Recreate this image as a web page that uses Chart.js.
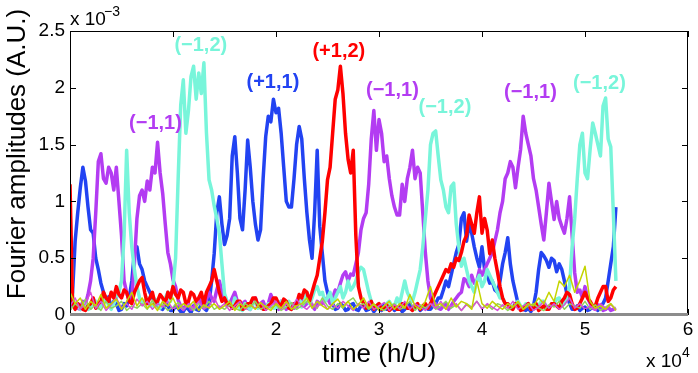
<!DOCTYPE html>
<html>
<head>
<meta charset="utf-8">
<script src="https://cdn.jsdelivr.net/npm/chart.js@4"></script>
<style>
html, body { margin: 0; padding: 0; background: #fff; }
canvas { display: block; }
</style>
</head>
<body>
<canvas id="chart" width="698" height="373"></canvas>
<script>
// time in units of 1e4 h/U, amplitudes in units of 1e-3 A.U.
// strong modes are read every 250 h/U, weak floor modes every 500 h/U
const timeFine = [
    0, 0.025, 0.05, 0.075, 0.1, 0.125, 0.15, 0.175, 0.2, 0.225, 0.25, 0.275, 0.3, 0.325, 0.35, 0.375, 0.4, 0.425, 0.45, 0.475,
    0.5, 0.525, 0.55, 0.575, 0.6, 0.625, 0.65, 0.675, 0.7, 0.725, 0.75, 0.775, 0.8, 0.825, 0.85, 0.875, 0.9, 0.925, 0.95, 0.975,
    1, 1.025, 1.05, 1.075, 1.1, 1.125, 1.15, 1.175, 1.2, 1.225, 1.25, 1.275, 1.3, 1.325, 1.35, 1.375, 1.4, 1.425, 1.45, 1.475,
    1.5, 1.525, 1.55, 1.575, 1.6, 1.625, 1.65, 1.675, 1.7, 1.725, 1.75, 1.775, 1.8, 1.825, 1.85, 1.875, 1.9, 1.925, 1.95, 1.975,
    2, 2.025, 2.05, 2.075, 2.1, 2.125, 2.15, 2.175, 2.2, 2.225, 2.25, 2.275, 2.3, 2.325, 2.35, 2.375, 2.4, 2.425, 2.45, 2.475,
    2.5, 2.525, 2.55, 2.575, 2.6, 2.625, 2.65, 2.675, 2.7, 2.725, 2.75, 2.775, 2.8, 2.825, 2.85, 2.875, 2.9, 2.925, 2.95, 2.975,
    3, 3.025, 3.05, 3.075, 3.1, 3.125, 3.15, 3.175, 3.2, 3.225, 3.25, 3.275, 3.3, 3.325, 3.35, 3.375, 3.4, 3.425, 3.45, 3.475,
    3.5, 3.525, 3.55, 3.575, 3.6, 3.625, 3.65, 3.675, 3.7, 3.725, 3.75, 3.775, 3.8, 3.825, 3.85, 3.875, 3.9, 3.925, 3.95, 3.975,
    4, 4.025, 4.05, 4.075, 4.1, 4.125, 4.15, 4.175, 4.2, 4.225, 4.25, 4.275, 4.3, 4.325, 4.35, 4.375, 4.4, 4.425, 4.45, 4.475,
    4.5, 4.525, 4.55, 4.575, 4.6, 4.625, 4.65, 4.675, 4.7, 4.725, 4.75, 4.775, 4.8, 4.825, 4.85, 4.875, 4.9, 4.925, 4.95, 4.975,
    5, 5.025, 5.05, 5.075, 5.1, 5.125, 5.15, 5.175, 5.2, 5.225, 5.25, 5.275, 5.3
];

const time = [
    0, 0.05, 0.1, 0.15, 0.2, 0.25, 0.3, 0.35, 0.4, 0.45,
    0.5, 0.55, 0.6, 0.65, 0.7, 0.75, 0.8, 0.85, 0.9, 0.95,
    1, 1.05, 1.1, 1.15, 1.2, 1.25, 1.3, 1.35, 1.4, 1.45,
    1.5, 1.55, 1.6, 1.65, 1.7, 1.75, 1.8, 1.85, 1.9, 1.95,
    2, 2.05, 2.1, 2.15, 2.2, 2.25, 2.3, 2.35, 2.4, 2.45,
    2.5, 2.55, 2.6, 2.65, 2.7, 2.75, 2.8, 2.85, 2.9, 2.95,
    3, 3.05, 3.1, 3.15, 3.2, 3.25, 3.3, 3.35, 3.4, 3.45,
    3.5, 3.55, 3.6, 3.65, 3.7, 3.75, 3.8, 3.85, 3.9, 3.95,
    4, 4.05, 4.1, 4.15, 4.2, 4.25, 4.3, 4.35, 4.4, 4.45,
    4.5, 4.55, 4.6, 4.65, 4.7, 4.75, 4.8, 4.85, 4.9, 4.95,
    5, 5.05, 5.1, 5.15, 5.2, 5.25, 5.3
];

// mode (+1,1)
const plus11 = [
    0.05, 0.2, 0.65, 0.9, 1.12, 1.3, 1.18, 0.95, 0.75, 0.72, 0.5, 0.4, 0.28, 0.2, 0.12, 0.16, 0.06, 0.12, 0.1, 0.04,
    0.05, 0.1, 0.08, 0.15, 0.3, 0.55, 0.6, 0.45, 0.4, 0.3, 0.25, 0.2, 0.15, 0.12, 0.1, 0.06, 0.05, 0.1, 0.08, 0.04,
    0.04, 0.08, 0.06, 0.03, 0.03, 0.07, 0.05, 0.02, 0.08, 0.05, 0.04, 0.1, 0.06, 0.04, 0.1, 0.3, 0.54, 0.9, 1.04, 0.8,
    0.62, 0.7, 0.85, 1.4, 1.57, 1.25, 0.85, 0.75, 1.1, 1.54, 1.3, 1.0, 0.8, 0.66, 0.75, 1.2, 1.57, 1.75, 1.7, 1.9,
    1.78, 1.82, 1.6, 1.3, 1.0, 0.95, 0.95, 1.2, 1.5, 1.66, 1.55, 1.2, 0.9, 0.66, 0.5, 0.9, 1.45, 0.78, 0.54, 0.3,
    0.2, 0.12, 0.1, 0.05, 0.06, 0.1, 0.08, 0.04, 0.05, 0.09, 0.1, 0.05, 0.04, 0.08, 0.08, 0.04, 0.05, 0.07, 0.03, 0.06,
    0.06, 0.04, 0.09, 0.05, 0.05, 0.08, 0.04, 0.06, 0.07, 0.03, 0.05, 0.08, 0.1, 0.05, 0.06, 0.09, 0.04, 0.06, 0.08, 0.05,
    0.05, 0.08, 0.1, 0.15, 0.15, 0.22, 0.3, 0.25, 0.35, 0.45, 0.55, 0.62, 0.85, 0.9, 0.65, 0.8, 0.72, 0.6, 0.5, 0.42,
    0.6, 0.4, 0.35, 0.28, 0.3, 0.22, 0.2, 0.3, 0.45, 0.55, 0.68, 0.45, 0.3, 0.2, 0.1, 0.06, 0.05, 0.04, 0.06, 0.03,
    0.08, 0.2, 0.4, 0.55, 0.52, 0.48, 0.42, 0.5, 0.48, 0.38, 0.45, 0.4, 0.3, 0.18, 0.1, 0.05, 0.05, 0.08, 0.04, 0.06,
    0.07, 0.04, 0.05, 0.08, 0.06, 0.04, 0.08, 0.1, 0.15, 0.3, 0.45, 0.6, 0.95
];

// mode (-1,1)
const minus11 = [
    0.05, 0.12, 0.1, 0.06, 0.05, 0.12, 0.1, 0.18, 0.3, 0.5, 0.9, 1.35, 1.42, 1.2, 1.16, 1.3, 1.25, 1.1, 1.3, 1.0,
    0.7, 0.3, 0.2, 0.12, 0.15, 0.45, 0.85, 1.05, 1.1, 1.0, 1.18, 1.1, 1.3, 1.25, 1.52, 1.25, 1.07, 0.8, 0.55, 0.45,
    0.31, 0.25, 0.13, 0.08, 0.05, 0.09, 0.1, 0.05, 0.06, 0.12, 0.15, 0.1, 0.08, 0.14, 0.2, 0.15, 0.12, 0.22, 0.3, 0.2,
    0.15, 0.08, 0.1, 0.15, 0.2, 0.12, 0.08, 0.1, 0.12, 0.06, 0.05, 0.1, 0.15, 0.08, 0.1, 0.12, 0.06, 0.1, 0.18, 0.12,
    0.08, 0.05, 0.12, 0.09, 0.05, 0.1, 0.1, 0.06, 0.07, 0.12, 0.15, 0.08, 0.1, 0.14, 0.08, 0.05, 0.12, 0.1, 0.1, 0.14,
    0.15, 0.1, 0.15, 0.22, 0.2, 0.28, 0.35, 0.38, 0.3, 0.36, 0.35, 0.45, 0.55, 0.75, 0.85, 0.9, 1.15, 1.55, 1.8, 1.45,
    1.72, 1.6, 1.35, 1.4, 1.2, 1.05, 0.95, 0.88, 0.88, 1.15, 1.0, 1.2, 1.3, 1.45, 1.2, 1.3, 1.25, 0.9, 0.55, 0.3,
    0.15, 0.1, 0.1, 0.06, 0.05, 0.08, 0.1, 0.05, 0.08, 0.12, 0.15, 0.18, 0.2, 0.32, 0.3, 0.25, 0.35, 0.28, 0.3, 0.4,
    0.35, 0.4, 0.45, 0.5, 0.55, 0.65, 0.75, 0.9, 1.0, 1.2, 1.25, 1.35, 1.3, 1.12, 1.3, 1.46, 1.75, 1.6, 1.5, 1.4,
    1.2, 1.1, 0.95, 0.8, 0.66, 0.9, 1.16, 1.0, 0.84, 1.0, 0.85, 0.78, 0.72, 0.85, 1.04, 0.7, 0.37, 0.2, 0.22, 0.15,
    0.25, 0.15, 0.1, 0.06, 0.05, 0.09, 0.08, 0.04, 0.05, 0.07, 0.04, 0.05, 0.06
];

// mode (-1,2)
const minus12 = [
    0.95, 0.15, 0.08, 0.1, 0.05, 0.08, 0.1, 0.05, 0.06, 0.14, 0.12, 0.06, 0.08, 0.12, 0.15, 0.08, 0.05, 0.1, 0.15, 0.2,
    0.3, 0.7, 1.45, 0.9, 0.6, 0.4, 0.25, 0.15, 0.1, 0.12, 0.15, 0.08, 0.08, 0.14, 0.12, 0.06, 0.1, 0.15, 0.2, 0.12,
    0.25, 0.5, 1.2, 1.85, 2.07, 1.6, 1.8, 2.1, 2.19, 1.9, 2.13, 1.95, 2.22, 1.6, 1.19, 1.1, 0.96, 0.85, 0.72, 0.45,
    0.19, 0.12, 0.1, 0.06, 0.15, 0.1, 0.06, 0.04, 0.1, 0.07, 0.05, 0.09, 0.12, 0.06, 0.08, 0.05, 0.05, 0.1, 0.1, 0.06,
    0.06, 0.1, 0.12, 0.07, 0.08, 0.12, 0.05, 0.08, 0.1, 0.15, 0.07, 0.12, 0.2, 0.1, 0.15, 0.22, 0.25, 0.18, 0.2, 0.12,
    0.15, 0.2, 0.1, 0.15, 0.2, 0.25, 0.15, 0.2, 0.3, 0.22, 0.25, 0.3, 0.38, 0.42, 0.4, 0.3, 0.2, 0.12, 0.05, 0.08,
    0.1, 0.05, 0.06, 0.1, 0.12, 0.08, 0.08, 0.15, 0.1, 0.2, 0.3, 0.2, 0.15, 0.12, 0.2, 0.3, 0.4, 0.6, 0.85, 1.1,
    1.5, 1.6, 1.62, 1.4, 1.19, 1.1, 0.95, 0.9, 1.13, 1.16, 0.8, 0.6, 0.43, 0.5, 0.4, 0.3, 0.25, 0.2, 0.3, 0.35,
    0.25, 0.3, 0.4, 0.35, 0.3, 0.25, 0.2, 0.15, 0.15, 0.1, 0.1, 0.06, 0.08, 0.1, 0.12, 0.08, 0.06, 0.1, 0.1, 0.05,
    0.05, 0.08, 0.08, 0.12, 0.12, 0.07, 0.06, 0.1, 0.1, 0.14, 0.15, 0.08, 0.1, 0.15, 0.25, 0.6, 0.85, 1.2, 1.5, 1.6,
    1.25, 1.2, 1.46, 1.69, 1.6, 1.5, 1.4, 1.84, 1.91, 1.55, 1.48, 0.9, 0.3
];

// mode (+1,2)
const plus12 = [
    1.15, 0.1, 0.05, 0.1, 0.08, 0.05, 0.04, 0.08, 0.1, 0.15, 0.06, 0.1, 0.12, 0.2, 0.15, 0.12, 0.2, 0.15, 0.25, 0.18,
    0.15, 0.22, 0.2, 0.12, 0.1, 0.2, 0.25, 0.3, 0.33, 0.2, 0.1, 0.15, 0.2, 0.1, 0.12, 0.18, 0.15, 0.1, 0.2, 0.15,
    0.25, 0.18, 0.15, 0.22, 0.2, 0.1, 0.12, 0.2, 0.18, 0.12, 0.15, 0.2, 0.1, 0.2, 0.25, 0.3, 0.4, 0.3, 0.2, 0.12,
    0.15, 0.1, 0.1, 0.06, 0.08, 0.12, 0.12, 0.05, 0.06, 0.1, 0.1, 0.15, 0.15, 0.08, 0.08, 0.05, 0.05, 0.08, 0.1, 0.15,
    0.15, 0.1, 0.08, 0.14, 0.12, 0.06, 0.05, 0.1, 0.1, 0.18, 0.15, 0.22, 0.2, 0.12, 0.2, 0.28, 0.35, 0.5, 0.65, 0.9,
    1.19, 1.3, 1.6, 1.9, 1.98, 2.19, 1.95, 1.6, 1.37, 1.25, 1.45, 0.7, 0.25, 0.15, 0.1, 0.06, 0.08, 0.12, 0.05, 0.08,
    0.1, 0.05, 0.06, 0.09, 0.04, 0.06, 0.08, 0.05, 0.05, 0.1, 0.1, 0.06, 0.06, 0.04, 0.08, 0.1, 0.05, 0.08, 0.1, 0.06,
    0.1, 0.15, 0.2, 0.25, 0.3, 0.35, 0.4, 0.38, 0.45, 0.42, 0.5, 0.48, 0.55, 0.65, 0.7, 0.88, 0.8, 0.72, 0.9, 1.04,
    0.72, 0.85, 0.75, 0.54, 0.66, 0.5, 0.38, 0.25, 0.15, 0.1, 0.1, 0.06, 0.05, 0.1, 0.08, 0.04, 0.05, 0.08, 0.1, 0.05,
    0.06, 0.1, 0.04, 0.06, 0.08, 0.05, 0.05, 0.1, 0.1, 0.08, 0.06, 0.12, 0.15, 0.2, 0.18, 0.1, 0.05, 0.06, 0.1, 0.15,
    0.2, 0.15, 0.12, 0.08, 0.08, 0.15, 0.2, 0.25, 0.25, 0.12, 0.15, 0.22, 0.25
];

// weak modes near the floor
const weakA = [
    0.2, 0.1, 0.15, 0.05, 0.12, 0.08, 0.18, 0.06, 0.1, 0.14,
    0.05, 0.12, 0.2, 0.08, 0.15, 0.06, 0.1, 0.04, 0.12, 0.08,
    0.15, 0.05, 0.1, 0.07, 0.12, 0.04, 0.09, 0.06, 0.1, 0.05,
    0.08, 0.12, 0.04, 0.1, 0.06, 0.09, 0.05, 0.11, 0.07, 0.04,
    0.1, 0.06, 0.12, 0.05, 0.08, 0.1, 0.15, 0.06, 0.12, 0.08,
    0.05, 0.1, 0.14, 0.07, 0.12, 0.05, 0.09, 0.15, 0.06, 0.1,
    0.04, 0.08, 0.12, 0.05, 0.1, 0.06, 0.18, 0.08, 0.05, 0.12,
    0.25, 0.08, 0.1, 0.05, 0.15, 0.07, 0.12, 0.1, 0.05, 0.3,
    0.1, 0.06, 0.12, 0.08, 0.05, 0.1, 0.07, 0.12, 0.05, 0.1,
    0.08, 0.15, 0.1, 0.2, 0.12, 0.3, 0.25, 0.35, 0.2, 0.3,
    0.43, 0.12, 0.06, 0.08, 0.05, 0.1, 0.04
];
const weakB = [
    0.08, 0.15, 0.05, 0.1, 0.2, 0.06, 0.12, 0.04, 0.09, 0.15,
    0.06, 0.1, 0.05, 0.14, 0.08, 0.12, 0.05, 0.1, 0.07, 0.12,
    0.05, 0.09, 0.04, 0.1, 0.06, 0.12, 0.05, 0.08, 0.15, 0.06,
    0.1, 0.04, 0.08, 0.12, 0.05, 0.09, 0.06, 0.11, 0.04, 0.08,
    0.12, 0.05, 0.1, 0.06, 0.14, 0.08, 0.05, 0.1, 0.07, 0.12,
    0.05, 0.09, 0.06, 0.12, 0.08, 0.04, 0.1, 0.06, 0.12, 0.05,
    0.08, 0.11, 0.04, 0.09, 0.06, 0.12, 0.05, 0.1, 0.07, 0.04,
    0.1, 0.06, 0.12, 0.05, 0.08, 0.1, 0.04, 0.09, 0.06, 0.12,
    0.05, 0.1, 0.07, 0.04, 0.09, 0.06, 0.12, 0.05, 0.08, 0.1,
    0.04, 0.07, 0.12, 0.06, 0.1, 0.05, 0.09, 0.15, 0.06, 0.1,
    0.05, 0.08, 0.04, 0.1, 0.06, 0.09, 0.05
];
const weakC = [
    0.04, 0.1, 0.06, 0.14, 0.05, 0.09, 0.04, 0.12, 0.06, 0.08,
    0.12, 0.04, 0.08, 0.06, 0.1, 0.05, 0.13, 0.06, 0.09, 0.04,
    0.07, 0.11, 0.05, 0.09, 0.04, 0.1, 0.06, 0.12, 0.05, 0.08,
    0.05, 0.09, 0.06, 0.04, 0.1, 0.07, 0.12, 0.05, 0.08, 0.06,
    0.09, 0.04, 0.07, 0.11, 0.05, 0.08, 0.12, 0.1, 0.06, 0.15,
    0.08, 0.05, 0.1, 0.06, 0.12, 0.15, 0.08, 0.1, 0.05, 0.09,
    0.06, 0.04, 0.08, 0.1, 0.05, 0.07, 0.12, 0.04, 0.09, 0.06,
    0.1, 0.05, 0.08, 0.12, 0.06, 0.09, 0.04, 0.1, 0.07, 0.12,
    0.06, 0.09, 0.05, 0.1, 0.08, 0.04, 0.07, 0.11, 0.05, 0.08,
    0.1, 0.06, 0.04, 0.09, 0.07, 0.12, 0.05, 0.1, 0.08, 0.06,
    0.12, 0.05, 0.09, 0.04, 0.07, 0.1, 0.05
];

const xTicks = [0, 1, 2, 3, 4, 5, 6];
const yTicks = [0, 0.5, 1, 1.5, 2, 2.5];

const BLUE = "#2243f2";
const PURPLE = "#b33cf2";
const CYAN = "#78f5da";
const RED = "#ff0000";

// mode tags, placed in data coordinates
const tags = [
    { text: "(\u22121,1)", color: PURPLE, t: 0.83, v: 1.69 },
    { text: "(\u22121,2)", color: CYAN, t: 1.27, v: 2.37 },
    { text: "(+1,1)", color: BLUE, t: 1.97, v: 2.05 },
    { text: "(+1,2)", color: RED, t: 2.61, v: 2.32 },
    { text: "(\u22121,1)", color: PURPLE, t: 3.13, v: 1.98 },
    { text: "(\u22121,2)", color: CYAN, t: 3.64, v: 1.83 },
    { text: "(\u22121,1)", color: PURPLE, t: 4.47, v: 1.96 },
    { text: "(\u22121,2)", color: CYAN, t: 5.14, v: 2.04 }
];

const FONT = "'Liberation Sans', Arial, Helvetica, sans-serif";

function series(ts, arr, color, width) {
    return {
        data: ts.map((t, i) => ({ x: t, y: arr[i] })),
        borderColor: color,
        borderWidth: width,
        pointRadius: 0,
        tension: 0,
        fill: false,
        borderJoinStyle: "round"
    };
}

const frame = {
    id: "frame",
    afterDatasetsDraw(chart) {
        const ctx = chart.ctx;
        const a = chart.chartArea;
        const x = chart.scales.x;
        const y = chart.scales.y;
        ctx.save();

        ctx.strokeStyle = "#000";
        ctx.lineWidth = 1;
        ctx.beginPath();
        ctx.moveTo(a.left + 0.5, a.bottom);
        ctx.lineTo(a.left + 0.5, a.top + 0.5);
        ctx.lineTo(a.right - 0.5, a.top + 0.5);
        ctx.lineTo(a.right - 0.5, a.bottom);
        xTicks.forEach(v => {
            const px = Math.round(x.getPixelForValue(v)) + 0.5;
            ctx.moveTo(px, a.bottom);
            ctx.lineTo(px, a.bottom - 6);
            ctx.moveTo(px, a.top);
            ctx.lineTo(px, a.top + 6);
        });
        yTicks.forEach(v => {
            const py = Math.round(y.getPixelForValue(v)) + 0.5;
            ctx.moveTo(a.left, py);
            ctx.lineTo(a.left + 6, py);
            ctx.moveTo(a.right, py);
            ctx.lineTo(a.right - 6, py);
        });
        ctx.stroke();

        ctx.strokeStyle = "#8c8c8c";
        ctx.lineWidth = 3;
        ctx.beginPath();
        ctx.moveTo(a.left, a.bottom - 0.5);
        ctx.lineTo(a.right, a.bottom - 0.5);
        ctx.stroke();

        ctx.font = "bold 20px " + FONT;
        ctx.textAlign = "center";
        ctx.textBaseline = "middle";
        tags.forEach(tg => {
            ctx.fillStyle = tg.color;
            ctx.fillText(tg.text, x.getPixelForValue(tg.t), y.getPixelForValue(tg.v));
        });

        ctx.fillStyle = "#000";
        ctx.font = "26px " + FONT;
        ctx.fillText("time (h/U)", (a.left + a.right) / 2, 355);

        ctx.save();
        ctx.translate(18, 154);
        ctx.rotate(-Math.PI / 2);
        ctx.fillText("Fourier amplitudes (A.U.)", 0, 0);
        ctx.restore();

        ctx.textAlign = "left";
        ctx.textBaseline = "alphabetic";
        ctx.font = "19px " + FONT;
        ctx.fillText("x 10", 70, 25);
        ctx.fillText("x 10", 646, 367);
        ctx.font = "14px " + FONT;
        ctx.fillText("\u22123", 104, 16);
        ctx.fillText("4", 682, 357);

        ctx.restore();
    }
};

new Chart(document.getElementById("chart").getContext("2d"), {
    type: "line",
    data: {
        datasets: [
            series(time, weakA, "#c4d400", 1.5),
            series(time, weakB, "#d84ed8", 1.5),
            series(time, weakC, "#8fd45a", 1.5),
            series(timeFine, plus12, RED, 3.5),
            series(timeFine, minus12, CYAN, 3.5),
            series(timeFine, minus11, PURPLE, 3.5),
            series(timeFine, plus11, BLUE, 3.5)
        ]
    },
    options: {
        responsive: false,
        animation: false,
        layout: { padding: { top: 31, right: 10, left: 0, bottom: 0 } },
        plugins: {
            legend: { display: false },
            tooltip: { enabled: false }
        },
        scales: {
            x: {
                type: "linear",
                min: 0,
                max: 6,
                afterFit: s => { s.height = 58; },
                afterBuildTicks: s => { s.ticks = xTicks.map(v => ({ value: v })); },
                grid: { display: false, drawTicks: false },
                border: { display: false },
                ticks: {
                    color: "#000",
                    padding: 3,
                    maxRotation: 0,
                    font: { family: FONT, size: 19 },
                    callback: v => String(v)
                }
            },
            y: {
                type: "linear",
                min: 0,
                max: 2.5,
                afterFit: s => { s.width = 70; },
                afterBuildTicks: s => { s.ticks = yTicks.map(v => ({ value: v })); },
                grid: { display: false, drawTicks: false },
                border: { display: false },
                ticks: {
                    color: "#000",
                    padding: 5,
                    font: { family: FONT, size: 19 },
                    callback: v => String(v)
                }
            }
        }
    },
    plugins: [frame]
});
</script>
</body>
</html>
